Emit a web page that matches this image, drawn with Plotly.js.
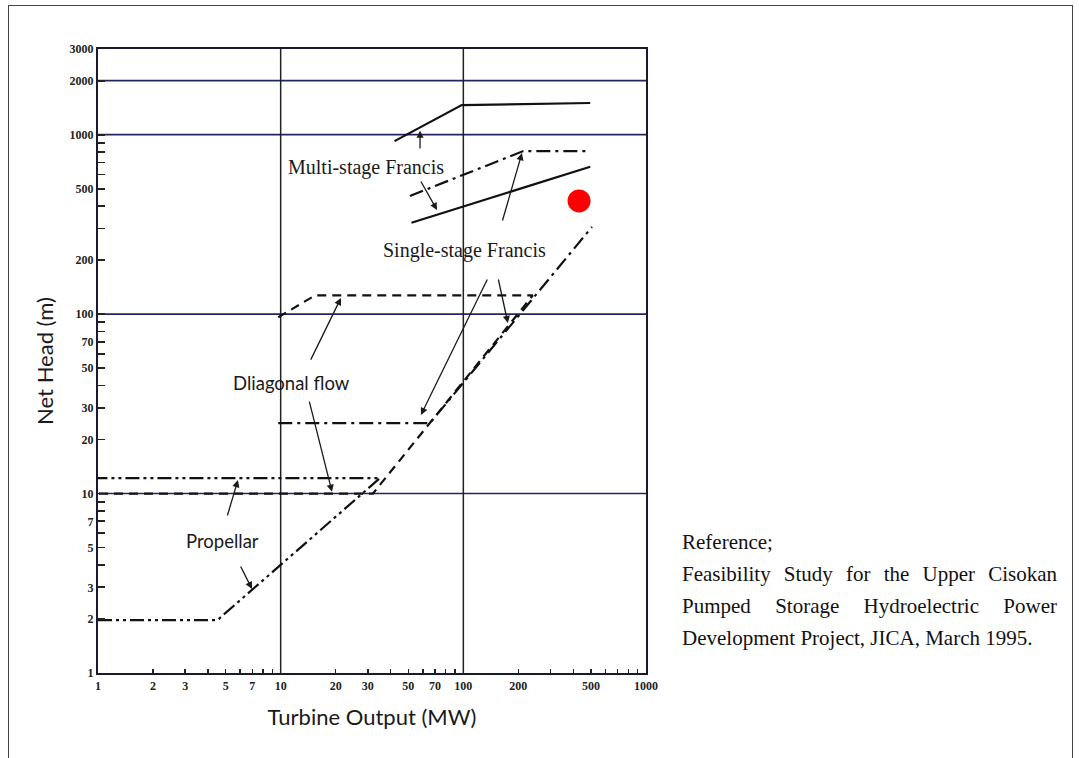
<!DOCTYPE html>
<html><head><meta charset="utf-8">
<script src="https://cdn.plot.ly/plotly-3.0.1.min.js"></script>
<style>
html,body{margin:0;padding:0;background:#fff;}
#chart{position:absolute;left:0;top:0;width:1079px;height:758px;}
#frame{position:absolute;left:8px;top:5px;width:1065px;height:800px;border:1px solid #444;border-bottom:none;box-sizing:border-box;pointer-events:none;}
#note{position:absolute;left:682px;top:526px;width:375px;font-family:'Liberation Serif','Times New Roman',serif;font-size:21px;line-height:32px;color:#111;text-align:justify;}
</style></head>
<body><div id="chart"></div><div id="frame"></div>
<div id="note">Reference;<br>Feasibility Study for the Upper Cisokan Pumped Storage Hydroelectric Power Development Project, JICA, March 1995.</div>
<script>
// ---- data (Turbine Output in MW, Net Head in m) ----
const msfUpperOutput = [42, 98, 495];
const msfUpperHead   = [920, 1460, 1500];
const msfLowerOutput = [52, 495];
const msfLowerHead   = [323, 662];
const ssfUpperOutput = [51, 213, 495];
const ssfUpperHead   = [455, 810, 810];
const ssfLowerOutput = [9.7, 65.7, 506];
const ssfLowerHead   = [24.7, 24.7, 306];
const diagOutput     = [9.7, 15.4, 240, 32, 1];
const diagHead       = [96, 127, 127, 10, 10];
const propOutput     = [1, 4.5, 35, 1];
const propHead       = [1.97, 1.97, 12.2, 12.2];
const siteOutput     = [430];
const siteHead       = [427];

const gridHeads   = [10, 100, 1000, 2000];
const gridOutputs = [10, 100];

const xTickVals = [1,2,3,5,7,10,20,30,50,70,100,200,500,1000];
const xTickText = ['1','2','3','5','7','10','20','30','50','70','100','200','500','1000'];
const xMinorVals = [4,6,8,9,40,60,80,90,300,400,600,700,800,900];
const yTickVals = [1,2,3,5,7,10,20,30,50,70,100,200,500,1000,2000,3000];
const yTickText = ['1','2','3','5','7','10','20','30','50','70','100','200','500','1000','2000','3000'];
const yMinorVals = [4,6,8,9,40,60,80,90,300,400,600,700,800,900];

const X_MIN = 1, X_MAX = 1000, Y_MIN = 1, Y_MAX = 3000;

// ---- traces ----
const traces = [];
gridHeads.forEach(h => traces.push({x:[X_MIN, X_MAX], y:[h, h], mode:'lines',
  line:{color:'#24245e', width:1.6}, hoverinfo:'skip', showlegend:false}));
gridOutputs.forEach(o => traces.push({x:[o, o], y:[Y_MIN, Y_MAX], mode:'lines',
  line:{color:'#222', width:1.5}, hoverinfo:'skip', showlegend:false}));

const DASHDOT = '14px,5px,3px,5px';
const DASHDOTDOT = '14px,4px,3px,4px,3px,4px';
const DASHED = '9px,6px';
function series(name, x, y, dash){
  return {name, x, y, mode:'lines', line:{color:'#111', width:2.2, dash}, showlegend:false};
}
traces.push(series('Multi-stage Francis (upper)', msfUpperOutput, msfUpperHead, 'solid'));
traces.push(series('Multi-stage Francis (lower)', msfLowerOutput, msfLowerHead, 'solid'));
traces.push(series('Single-stage Francis (upper)', ssfUpperOutput, ssfUpperHead, DASHDOT));
traces.push(series('Single-stage Francis (lower)', ssfLowerOutput, ssfLowerHead, DASHDOT));
traces.push(series('Diagonal flow', diagOutput, diagHead, DASHED));
traces.push(series('Propeller', propOutput, propHead, DASHDOTDOT));
traces.push({name:'Upper Cisokan', x:siteOutput, y:siteHead, mode:'markers',
  marker:{color:'#ff0000', size:23}, showlegend:false});

// ---- annotations (positions in log10 axis units) ----
const serif = {family:'Liberation Serif, Times New Roman, serif', size:20, color:'#1a1a1a'};
const sans  = {family:'Lato, Open Sans, sans-serif', size:18.5, color:'#1a1a1a'};
const labels = [
  {text:'Multi-stage Francis', x:1.467, y:2.819, font:serif},
  {text:'Single-stage Francis', x:2.009, y:2.357, font:serif},
  {text:'Dliagonal flow', x:1.062, y:1.616, font:sans},
  {text:'Propellar', x:0.684, y:0.7355, font:sans}
];
const arrows = [
  [1.763, 2.914, 1.763, 3.022],
  [1.763, 2.747, 1.856, 2.580],
  [2.212, 2.513, 2.321, 2.897],
  [2.135, 2.201, 1.768, 1.438],
  [2.190, 2.201, 2.244, 1.950],
  [1.161, 1.738, 1.330, 2.090],
  [1.155, 1.521, 1.281, 1.010],
  [0.706, 0.869, 0.766, 1.075],
  [0.777, 0.602, 0.843, 0.468]
];
const annotations = [];
labels.forEach(l => annotations.push({text:l.text, x:l.x, y:l.y, xref:'x', yref:'y',
  showarrow:false, font:l.font, xanchor:'center', yanchor:'middle'}));
arrows.forEach(a => annotations.push({text:'', x:a[2], y:a[3], ax:a[0], ay:a[1],
  xref:'x', yref:'y', axref:'x', ayref:'y', showarrow:true, arrowhead:2,
  arrowsize:1.1, arrowwidth:1.3, arrowcolor:'#1a1a1a', standoff:0, startstandoff:0}));

const tickFont = {family:'Liberation Serif, Times New Roman, serif', size:12, color:'#222', weight:'bold'};
const layout = {
  width:1079, height:758,
  margin:{l:98, r:433, t:49, b:85},
  paper_bgcolor:'rgba(0,0,0,0)', plot_bgcolor:'#ffffff',
  showlegend:false,
  xaxis:{type:'log', range:[Math.log10(X_MIN), Math.log10(X_MAX)],
    tickmode:'array', tickvals:xTickVals, ticktext:xTickText,
    ticks:'inside', ticklen:4, tickwidth:1.5, tickcolor:'#222',
    minor:{tickvals:xMinorVals, ticks:'inside', ticklen:4, tickwidth:1.5, tickcolor:'#222', showgrid:false},
    showgrid:false, zeroline:false, showline:true, mirror:true, linewidth:2.2, linecolor:'#1a1a2e',
    tickfont:tickFont,
    title:{text:'Turbine Output (MW)', standoff:18, font:{family:'Lato, Open Sans, sans-serif', size:22, color:'#1a1a1a'}}},
  yaxis:{type:'log', range:[Math.log10(Y_MIN), Math.log10(Y_MAX)],
    tickmode:'array', tickvals:yTickVals, ticktext:yTickText,
    ticks:'inside', ticklen:7, tickwidth:1.8, tickcolor:'#222',
    minor:{tickvals:yMinorVals, ticks:'inside', ticklen:7, tickwidth:1.8, tickcolor:'#222', showgrid:false},
    showgrid:false, zeroline:false, showline:true, mirror:true, linewidth:2.2, linecolor:'#1a1a2e',
    tickfont:tickFont,
    title:{text:'Net Head (m)', standoff:10, font:{family:'Lato, Open Sans, sans-serif', size:22, color:'#1a1a1a'}}},
  annotations
};
Plotly.newPlot('chart', traces, layout, {displayModeBar:false, staticPlot:true});
</script>
</body></html>
